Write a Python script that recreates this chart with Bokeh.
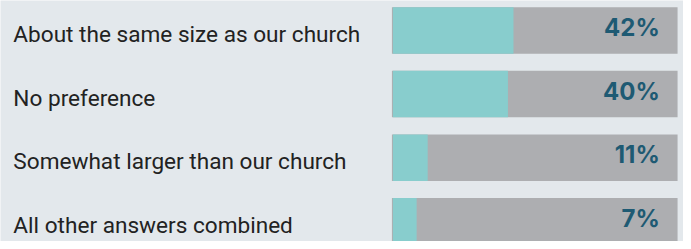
from bokeh.plotting import figure
from bokeh.models import Range1d, ColumnDataSource
from bokeh.core.properties import value
from bokeh.embed import file_html
from bokeh.resources import INLINE

categories = ["About the same size as our church", "No preference",
              "Somewhat larger than our church", "All other answers combined"]
percents = [42, 40, 11, 7]
pct_labels = ["42%", "40%", "11%", "7%"]

BG = "#e3e8ec"
TEAL = "#88cdcd"
GRAY = "#adaeb1"
LABEL_COLOR = "#222222"
PCT_COLOR = "#1e5a73"

W, H = 683, 241
SX, SY = W / 691, H / 249
PX_PER_UNIT = 2.8 * SX
ZERO_PX = 401.4 * SX
x_start = -ZERO_PX / PX_PER_UNIT
x_end = (W - ZERO_PX) / PX_PER_UNIT
BAR_LEFT = (396 * SX - ZERO_PX) / PX_PER_UNIT
TEAL_LEFT = (397 * SX - ZERO_PX) / PX_PER_UNIT
BAR_RIGHT = (685 * SX - ZERO_PX) / PX_PER_UNIT

PITCH = 65.7 * SY
TOP_PX = 31 * SY
y_top = -TOP_PX / PITCH
y_bottom = (H - TOP_PX) / PITCH

ys = list(range(len(categories)))
n = len(ys)
src = ColumnDataSource(dict(y=ys, cat=categories, v=percents, lab=pct_labels,
                            left=[BAR_LEFT] * n, tleft=[TEAL_LEFT] * n,
                            right=[BAR_RIGHT] * n, lx=[x_start] * n))

p = figure(width=W, height=H, output_backend="svg", toolbar_location=None,
           x_range=Range1d(x_start, x_end), y_range=Range1d(y_bottom, y_top),
           min_border=0, outline_line_color=None,
           background_fill_color=BG, border_fill_color=BG)
p.axis.visible = False
p.grid.visible = False

bh = 48 * SY / PITCH
p.hbar(y="y", left="left", right="right", height=bh, source=src,
       fill_color=GRAY, line_color=None)
p.hbar(y="y", left="tleft", right="v", height=bh, source=src,
       fill_color=TEAL, line_color=None)

p.text(x="lx", y="y", text="cat", source=src, x_offset=13 * SX, y_offset=4,
       text_baseline="middle", text_align="left",
       text_font=value("Roboto"), text_font_size="22.6px", text_color=LABEL_COLOR)
p.text(x="right", y="y", text="lab", source=src, x_offset=-18 * SX, y_offset=-3,
       text_baseline="middle", text_align="right",
       text_font=value("Inter"), text_font_style="bold", text_font_size="24px",
       text_color=PCT_COLOR)

open("out.html", "w").write(file_html(p, INLINE))
